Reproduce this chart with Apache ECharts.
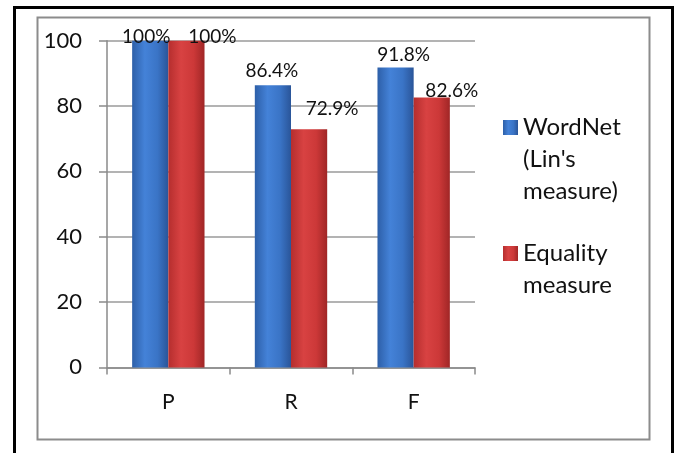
<!DOCTYPE html>
<html>
<head>
<meta charset="utf-8">
<script src="https://cdn.jsdelivr.net/npm/echarts@6/dist/echarts.min.js"></script>
<style>
  html, body { margin: 0; padding: 0; background: #ffffff; }
  #chart { width: 678px; height: 453px; }
</style>
</head>
<body>
<div id="chart"></div>
<script>
// ---- data ----
const categories = ['P', 'R', 'F'];
const wordnetValues = [100, 86.4, 91.8];
const equalityValues = [100, 72.9, 82.6];
const yTicks = [0, 20, 40, 60, 80, 100];
const seriesNames = ["WordNet (Lin's measure)", 'Equality measure'];
const legendLines = [["WordNet", "(Lin's", "measure)"], ["Equality", "measure"]];

// ---- styling ----
const FONT = 'Lato';
const blueGrad = new echarts.graphic.LinearGradient(0, 0, 1, 0, [
  { offset: 0, color: '#2d5fa8' },
  { offset: 0.35, color: '#4482d8' },
  { offset: 0.7, color: '#3a74c6' },
  { offset: 1, color: '#2a5599' }
]);
const redGrad = new echarts.graphic.LinearGradient(0, 0, 1, 0, [
  { offset: 0, color: '#b52e2e' },
  { offset: 0.35, color: '#d84242' },
  { offset: 0.7, color: '#cc3838' },
  { offset: 1, color: '#a02626' }
]);
// label nudges per category (dx, dy) to mimic the original placement
const blueShift = [[-4, 6], [-1, -5], [8, -3]];
const redShift = [[26, 6], [23, -11], [20, 3]];

function buildData(values, shifts) {
  return values.map((v, i) => ({
    value: v,
    label: { offset: shifts[i] }
  }));
}

const labelCommon = {
  show: true,
  position: 'top',
  distance: 0,
  fontFamily: FONT,
  fontSize: 19,
  color: '#111',
  formatter: p => p.value + '%'
};

function legendText(lines) {
  // pad with empty lines so the icon sits beside the first line
  const pad = new Array(lines.length - 1).fill('').join('\n');
  return (lines.length > 1 ? pad + '\n' : '') + lines.join('\n');
}

const chart = echarts.init(document.getElementById('chart'), null, { renderer: 'canvas' });
chart.setOption({
  backgroundColor: '#ffffff',
  animation: false,
  grid: { left: 107, right: 203, top: 40.7, bottom: 85.6, containLabel: false },
  legend: [
    {
      data: [seriesNames[0]],
      orient: 'vertical',
      left: 503,
      top: 47.5,
      padding: 0,
      itemWidth: 15,
      itemHeight: 15,
      icon: 'rect',
      selectedMode: false,
      formatter: () => legendText(legendLines[0]),
      textStyle: { fontFamily: FONT, fontSize: 24, lineHeight: 32, color: '#111' }
    },
    {
      data: [seriesNames[1]],
      orient: 'vertical',
      left: 503,
      top: 205.5,
      padding: 0,
      itemWidth: 15,
      itemHeight: 15,
      icon: 'rect',
      selectedMode: false,
      formatter: () => legendText(legendLines[1]),
      textStyle: { fontFamily: FONT, fontSize: 24, lineHeight: 32, color: '#111' }
    }
  ],
  xAxis: {
    type: 'category',
    data: categories,
    axisLine: { show: true, lineStyle: { color: '#8a8a8a', width: 1.5 } },
    axisTick: { show: true, length: 7, inside: false, lineStyle: { color: '#8a8a8a', width: 1.5 } },
    axisLabel: { fontFamily: FONT, fontSize: 21, color: '#111', margin: 24 },
    splitLine: { show: false }
  },
  yAxis: {
    type: 'value',
    min: yTicks[0],
    max: yTicks[yTicks.length - 1],
    interval: yTicks[1] - yTicks[0],
    axisLine: { show: true, lineStyle: { color: '#8a8a8a', width: 1.5 } },
    axisTick: { show: true, length: 8, lineStyle: { color: '#8a8a8a', width: 1.5 } },
    axisLabel: { fontFamily: FONT, fontSize: 22, color: '#111', margin: 25 },
    splitLine: { show: true, lineStyle: { color: '#9a9a9a', width: 1.5 } }
  },
  series: [
    {
      name: seriesNames[0],
      type: 'bar',
      data: buildData(wordnetValues, blueShift),
      barGap: '0%',
      barCategoryGap: '41%',
      itemStyle: { color: blueGrad },
      label: labelCommon
    },
    {
      name: seriesNames[1],
      type: 'bar',
      data: buildData(equalityValues, redShift),
      barGap: '0%',
      barCategoryGap: '41%',
      itemStyle: { color: redGrad },
      label: labelCommon
    }
  ],
  graphic: [
    {
      type: 'rect',
      silent: true,
      shape: { x: 14.5, y: 7.5, width: 658, height: 470 },
      style: { fill: 'none', stroke: '#000', lineWidth: 3 },
      z: 100
    },
    {
      type: 'rect',
      silent: true,
      shape: { x: 37.5, y: 17.5, width: 612, height: 422 },
      style: { fill: 'none', stroke: '#8c8c8c', lineWidth: 2 },
      z: 100
    }
  ]
});
</script>
</body>
</html>
